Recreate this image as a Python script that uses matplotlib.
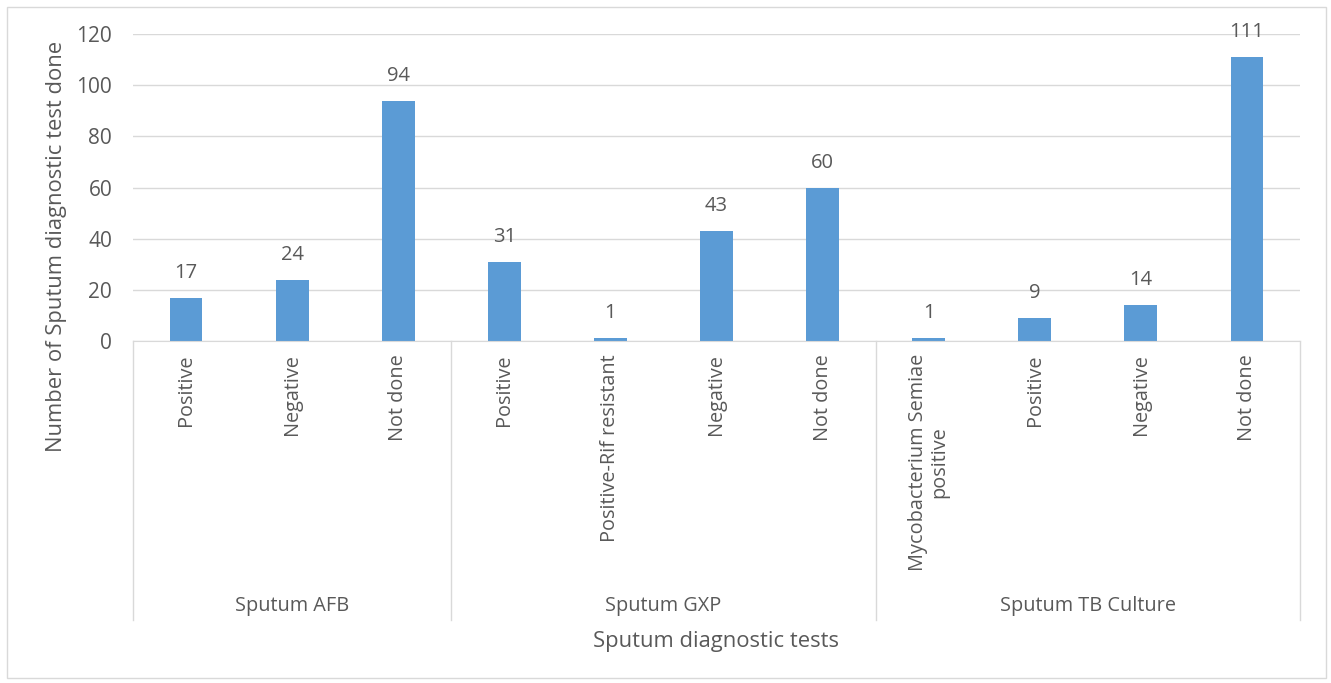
import matplotlib
matplotlib.use("Agg")
import matplotlib.pyplot as plt
from matplotlib.patches import Rectangle

plt.rcParams['font.family'] = ['Open Sans', 'DejaVu Sans']

# test groups and their result categories
groups = ["Sputum AFB", "Sputum GXP", "Sputum TB Culture"]
afb_labels = ["Positive", "Negative", "Not done"]
afb_counts = [17, 24, 94]
gxp_labels = ["Positive", "Positive-Rif resistant", "Negative", "Not done"]
gxp_counts = [31, 1, 43, 60]
culture_labels = ["Mycobacterium Semiae\npositive", "Positive", "Negative", "Not done"]
culture_counts = [1, 9, 14, 111]

TEXT = "#595959"
GRID = "#d9d9d9"
BAR = "#5b9bd5"

labels = afb_labels + gxp_labels + culture_labels
counts = afb_counts + gxp_counts + culture_counts
group_sizes = [len(afb_labels), len(gxp_labels), len(culture_labels)]

W, H = 1331, 683
fig = plt.figure(figsize=(W / 100, H / 100), dpi=100)
ax = fig.add_axes([133 / W, 1 - 341 / H, (1300 - 133) / W, (341 - 34) / H])

x = list(range(len(counts)))
ax.bar(x, counts, width=0.31, color=BAR, zorder=3)
for xi, c in zip(x, counts):
    ax.annotate(str(c), (xi, c), xytext=(0, 15), textcoords="offset pixels",
                ha="center", va="bottom", fontsize=14.5, color=TEXT, zorder=4)

ax.set_xlim(-0.5, len(counts) - 0.5)
ax.set_ylim(0, 120)
ax.set_yticks(range(0, 121, 20))
ax.tick_params(axis="y", length=0, pad=15, labelsize=15, labelcolor=TEXT)
ax.set_xticks([])
ax.grid(axis="y", color=GRID, linewidth=1, zorder=0)
for side in ["top", "right", "left"]:
    ax.spines[side].set_visible(False)
ax.spines["bottom"].set_color(GRID)
ax.spines["bottom"].set_zorder(5)

# category labels under the axis
xt = ax.get_xaxis_transform()
for xi, lab in zip(x, labels):
    ax.annotate(lab, (xi, 0), xycoords=xt, xytext=(0, -13), textcoords="offset pixels",
                rotation=90, ha="center", va="top", multialignment="center",
                fontsize=14.3, color=TEXT, annotation_clip=False, linespacing=1.1)

# group separators and group names
depth = -(620 - 341) / (341 - 34)
start = -0.5
ax.plot([start, start], [0, depth], transform=xt, color=GRID, lw=1, clip_on=False)
for g, n in zip(groups, group_sizes):
    end = start + n
    ax.plot([end, end], [0, depth], transform=xt, color=GRID, lw=1, clip_on=False)
    ax.annotate(g, ((start + end) / 2, 0), xycoords=xt, xytext=(0, -(606 - 341)),
                textcoords="offset pixels", ha="center", va="center",
                fontsize=14.3, color=TEXT, annotation_clip=False)
    start = end

fig.text(57 / W, 1 - 246 / H, "Number of Sputum diagnostic test done", rotation=90,
         ha="center", va="center", fontsize=15.8, color=TEXT)
fig.text(716 / W, 1 - 642 / H, "Sputum diagnostic tests", ha="center", va="center",
         fontsize=15.8, color=TEXT)

fig.patches.append(Rectangle((7 / W, 5 / H), (1326 - 7) / W, (676 - 5) / H,
                             transform=fig.transFigure, fill=False,
                             edgecolor=GRID, linewidth=1))

fig.savefig("out.png", dpi=100)
